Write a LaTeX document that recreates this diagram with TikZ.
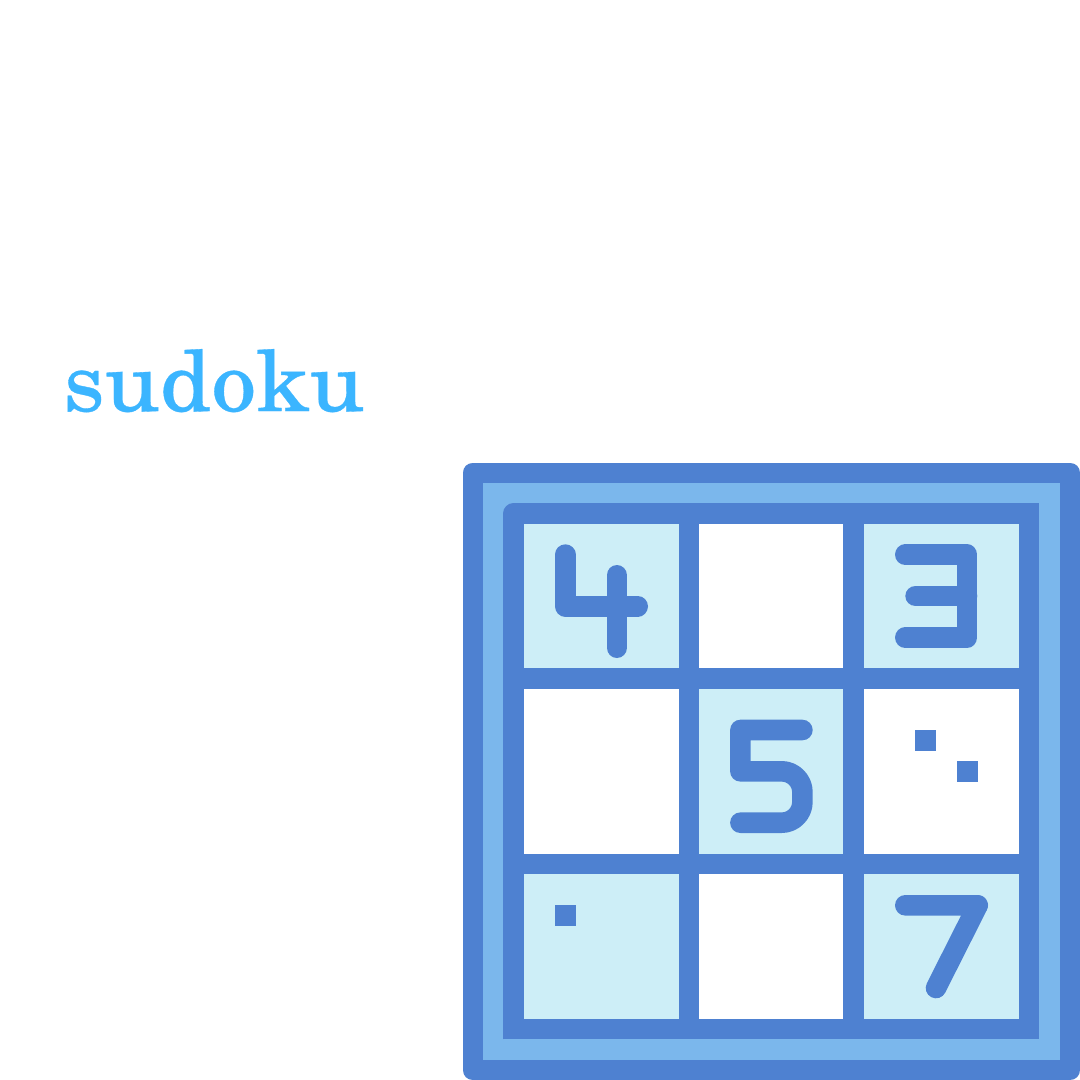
\documentclass[tikz,border=0pt]{standalone}
\usepackage{fontspec}
\newfontfamily\titlefont[FakeStretch=1.07,FakeBold=0.4]{TeX Gyre Schola}
\definecolor{strokeblue}{HTML}{4E81D1}
\definecolor{midblue}{HTML}{7BB7EC}
\definecolor{paleblue}{HTML}{CDEEF7}
\definecolor{titleblue}{HTML}{3BB5FF}
\tikzset{
  icon/.style={draw=strokeblue,line width=20.6pt,line cap=round,line join=round},
  frame/.style={draw=strokeblue,line width=20.6pt,line join=round},
  gridline/.style={draw=strokeblue,line width=20.6pt},
  pale/.style={fill=paleblue},
  dot/.style={fill=strokeblue}
}
\begin{document}
\begin{tikzpicture}[x=1pt,y=-1pt]
\useasboundingbox (0,0) rectangle (1080,1080);
\fill[white] (0,0) rectangle (1080,1080);
\clip (0,0) rectangle (1080,1080);
% outer frame
\path[frame,fill=midblue] (472.8,472.8) rectangle (1070,1070);
% cells
\fill[white] (513.5,513.5) rectangle (1029,1029);
\path[pale] (513.5,513.5) rectangle (689,678);
\path[pale] (853.5,513.5) rectangle (1029,678);
\path[pale] (689,678) rectangle (853.5,864);
\path[pale] (513.5,864) rectangle (689,1029);
\path[pale] (853.5,864) rectangle (1029,1029);
% grid
\draw[gridline] (689,513.5) -- (689,1029);
\draw[gridline] (853.5,513.5) -- (853.5,1029);
\draw[gridline] (513.5,678.3) -- (1029,678.3);
\draw[gridline] (513.5,863.8) -- (1029,863.8);
% inner frame
\draw[gridline,line join=miter] (513.5,1029) -- (1029,1029) -- (1029,513.5) -- (513.5,513.5);
\draw[frame,line cap=butt] (513.5,1039.3) -- (513.5,513.5) -- (530,513.5);
% 4
\draw[icon] (565.2,554.6) -- (565.2,606.2) -- (637.7,606.2);
\draw[icon] (616.8,575.3) -- (616.8,647.7);
% 3
\draw[icon] (905.3,554.7) -- (967,554.7) -- (967,637.6) -- (905.3,637.6);
\draw[icon] (915.6,596) -- (967,596);
% 5
\draw[icon] (802.4,730) -- (740.4,730) -- (740.4,771.3) -- (781.7,771.3)
  arc[start angle=-90,end angle=0,radius=20.7] -- (802.4,802)
  arc[start angle=0,end angle=90,radius=20.7] -- (740.4,822.7);
% squares
\path[dot] (915.3,729.8) rectangle (936.3,751);
\path[dot] (956.7,761) rectangle (977.7,782);
\path[dot] (555,905) rectangle (576,926);
% 7
\draw[icon] (905.3,905.3) -- (977.7,905.3) -- (936,988);
% title
\node[anchor=base west,inner sep=0pt,text=titleblue,font=\titlefont\fontsize{84}{84}\selectfont] (title) at (63,411) {sudoku};
\end{tikzpicture}
\end{document}
